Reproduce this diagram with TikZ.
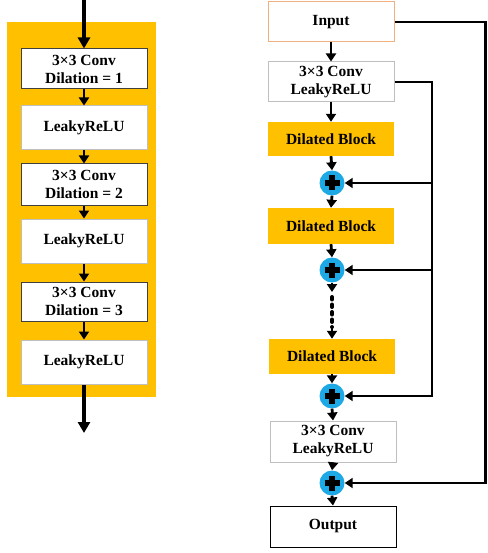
\documentclass[tikz,border=0pt]{standalone}
\usepackage{fontspec}
\setmainfont{Liberation Serif}
\usetikzlibrary{arrows.meta}
\definecolor{gold}{HTML}{FFC000}
\definecolor{addblue}{HTML}{1CA9E6}
\definecolor{peach}{HTML}{F0B080}
\definecolor{lgray}{HTML}{BFBFBF}
\definecolor{dgray}{HTML}{404040}
\begin{document}
\begin{tikzpicture}[x=1pt,y=-1pt,
  lbl/.style={font=\fontsize{15.5}{18}\selectfont\bfseries, align=center, inner sep=0pt, minimum width=126pt},
  convbox/.style={lbl, draw=dgray, line width=1pt, fill=white},
  relubox/.style={lbl, draw=lgray, line width=1pt, fill=white},
  grayb/.style={lbl, draw=lgray, line width=1pt, fill=white},
  dblock/.style={lbl, fill=gold},
  adder/.style={circle, fill=addblue, minimum size=25pt, inner sep=0pt},
  arr/.style={-{Triangle[length=8pt,width=10pt]}, line width=2.8pt},
  bigarr/.style={-{Triangle[length=11pt,width=12pt]}, line width=3.2pt},
  link/.style={line width=2.9pt},
  dots/.style={line width=4pt, line cap=round, dash pattern=on 2.5pt off 5pt},
]
\useasboundingbox (0,0) rectangle (487,553);
% ---------- left panel ----------
\fill[gold] (7,22.5) rectangle (156,397);
\node[convbox, minimum height=40pt] (b1) at (84,69) {3×3 Conv\\Dilation = 1};
\node[relubox, minimum height=44pt] (b2) at (84,128) {LeakyReLU};
\node[convbox, minimum height=41pt] (b3) at (84,184.5) {3×3 Conv\\Dilation = 2};
\node[relubox, minimum height=44pt] (b4) at (84,241) {LeakyReLU};
\node[convbox, minimum height=39pt] (b5) at (84,301.5) {3×3 Conv\\Dilation = 3};
\node[relubox, minimum height=44pt] (b6) at (84,362) {LeakyReLU};
\coordinate (ltop) at (84,0);
\coordinate (lbot) at (84,433);
\draw[bigarr] (ltop) -- (b1.north);
\draw[arr] (b1.south) -- (b2.north);
\draw[arr] (b2.south) -- (b3.north);
\draw[arr] (b3.south) -- (b4.north);
\draw[arr] (b4.south) -- (b5.north);
\draw[arr] (b5.south) -- (b6.north);
\draw[bigarr] (b6.south) -- (lbot);
% ---------- right panel ----------
\node[lbl, draw=peach, line width=1pt, minimum height=40pt] (in) at (331,22) {Input};
\node[grayb, minimum height=40pt] (c1) at (331,82) {3×3 Conv\\LeakyReLU};
\node[dblock, minimum height=34pt] (d1) at (331,139) {Dilated Block};
\node[adder] (a1) at (332,183) {};
\node[dblock, minimum height=36pt] (d2) at (331,226) {Dilated Block};
\node[adder] (a2) at (332,270) {};
\node[dblock, minimum height=35pt] (d3) at (332,356.5) {Dilated Block};
\node[adder] (a3) at (332,396) {};
\node[grayb, minimum height=41pt] (c2) at (333,441.5) {3×3 Conv\\LeakyReLU};
\node[adder] (a4) at (332,483) {};
\node[lbl, draw=black, line width=1pt, minimum height=41pt] (out) at (333,526.5) {Output};
% plus signs
\foreach \a in {a1,a2,a3,a4}{
  \draw[line width=5.5pt] ([xshift=-7.5pt]\a.center) -- ([xshift=7.5pt]\a.center);
  \draw[line width=5.5pt] ([yshift=-7.5pt]\a.center) -- ([yshift=7.5pt]\a.center);
}
% vertical flow
\draw[arr] (in.south) -- (c1.north);
\draw[arr] (c1.south) -- (d1.north);
\draw[arr] (d1.south) -- (a1.north);
\draw[arr] (a1.south) -- (d2.north);
\draw[arr] (d2.south) -- (a2.north);
\coordinate (dA) at (332,292);
\coordinate (dB) at (332,297);
\coordinate (dC) at (332,327);
\draw[arr] (a2.south) -- (dA);
\draw[dots] (dB) -- (dC);
\draw[arr] (dC) -- (d3.north);
\draw[arr] (d3.south) -- (a3.north);
\draw[arr] (a3.south) -- (c2.north);
\draw[arr] (c2.south) -- (a4.north);
\draw[arr] (a4.south) -- (out.north);
% skip from conv1
\coordinate (s0) at (432,82);
\coordinate (s1) at (432,183);
\coordinate (s2) at (432,270);
\coordinate (s3) at (432,396);
\draw[link, line join=miter] (c1.east) -- (s0) -- (s3);
\draw[arr] (s1) -- (a1.east);
\draw[arr] (s2) -- (a2.east);
\draw[arr] ([xshift=1.4pt]s3) -- (a3.east);
% long skip from input
\coordinate (r0) at (485.5,22);
\coordinate (r1) at (485.5,483);
\draw[link] (in.east) -- (r0) -- (r1);
\draw[arr] ([xshift=1.4pt]r1) -- (a4.east);
\end{tikzpicture}
\end{document}
